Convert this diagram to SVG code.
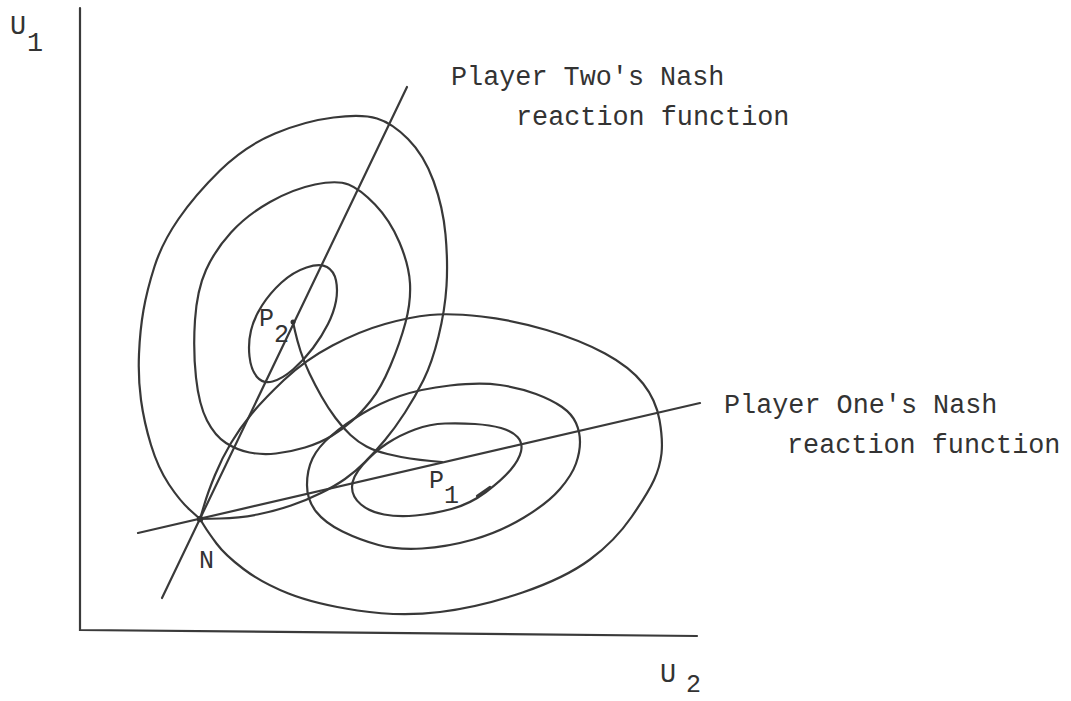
<svg xmlns="http://www.w3.org/2000/svg" width="1071" height="701" viewBox="0 0 1071 701">
<style>
.c{fill:none;stroke:#383838;stroke-width:2.2;stroke-linecap:round;stroke-linejoin:round}
.l{fill:none;stroke:#3a3a3a;stroke-width:2.2;stroke-linecap:round}
.t{font-family:"Liberation Mono","Courier New",monospace;font-size:26.8px;fill:#333}
.s{font-family:"Liberation Mono","Courier New",monospace;font-size:25px;fill:#333}
</style>
<rect width="1071" height="701" fill="#fff"/>
<g id="connectors">
<path class="l" d="M80,8 L80,630 L697,636"/>
<path class="l" d="M162,598 L407,87"/>
<path class="l" d="M138,533 L700,403"/>
</g>
<g id="p2-outer"><path class="c" d="M200,519 L190,510 Q180,501 169,484.5 Q158,468 151,445 Q144,422 141,400 Q138,378 139,354 Q140,330 143.5,310 Q147,290 154.5,266.5 Q162,243 178.5,219 Q195,195 220,170.5 Q245,146 275,133.5 Q305,121 333.5,117.5 Q362,114 377,118.5 Q392,123 408,139 Q424,155 433.5,181 Q443,207 445.5,234.5 Q448,262 446.5,286 Q445,310 438.5,336.5 Q432,363 423.5,380 Q415,397 405,412.5 Q395,428 385,440 Q375,452 365,462 Q355,472 345,479 Q335,486 321,493 Q307,500 291,505.5 Q275,511 257.5,514.5 Q240,518 220,518.5 L200,519"/></g>
<g id="p2-middle"><path class="c" d="M315,184.5 Q337,180 348.5,184.5 Q360,189 375,204.5 Q390,220 399.5,242.5 Q409,265 410,283.5 Q411,302 405.5,322.5 Q400,343 390.5,365.5 Q381,388 371,400.5 Q361,413 352,421 Q343,429 331.5,436 Q320,443 305,447.5 Q290,452 276,453.5 Q262,455 249.5,452.5 Q237,450 226,443 Q215,436 207,420.5 Q199,405 196,377.5 Q193,350 195,320 Q197,290 206,270 Q215,250 231,232.5 Q247,215 270,202 Q293,189 315,184.5 Z"/></g>
<g id="p2-inner"><path class="c" d="M306.5,267.5 Q320,263 327,267 Q334,271 336,280.5 Q338,290 336,301 Q334,312 328,324 Q322,336 313,348 Q304,360 293,369.5 Q282,379 272.5,381.5 Q263,384 257,377 Q251,370 249.5,356.5 Q248,343 251,330.5 Q254,318 262,305.5 Q270,293 281.5,282.5 Q293,272 306.5,267.5 Z"/></g>
<g id="p1-outer"><path class="c" d="M200,519 L204,505.5 Q208,492 215,475 Q222,458 231,443 Q240,428 251.5,414 Q263,400 284,380 Q305,360 332.5,345.5 Q360,331 385,324 Q410,317 430,315 Q450,313 481.5,316.5 Q513,320 546.5,330 Q580,340 605,353.5 Q630,367 643,383.5 Q656,400 659.5,420 Q663,440 661.5,453.5 Q660,467 654,480 Q648,493 631.5,517 Q615,541 590,559.5 Q565,578 522.5,592.5 Q480,607 440,612 Q400,617 357.5,610.5 Q315,604 288.5,593.5 Q262,583 243.5,569 Q225,555 216.5,543.5 Q208,532 204,525.5 L200,519"/></g>
<g id="p1-middle"><path class="c" d="M450,385.5 Q480,382 500,385 Q520,388 536,394 Q552,400 562,407 Q572,414 576,423 Q580,432 580,442 Q580,452 576,463.5 Q572,475 560,489 Q548,503 524,517.5 Q500,532 473.5,539.5 Q447,547 422,548.5 Q397,550 378.5,545 Q360,540 342.5,531.5 Q325,523 316,511.5 Q307,500 307,485 Q307,470 312.5,458.5 Q318,447 331.5,435.5 Q345,424 362.5,413.5 Q380,403 400,396 Q420,389 450,385.5 Z"/></g>
<g id="p1-inner"><path class="c" d="M445,423.5 Q460,423 475,424 Q490,425 501,428 Q512,431 517.5,437 Q523,443 521,451.5 Q519,460 510.5,470 Q502,480 486,492 Q470,504 451.5,509 Q433,514 415.5,515.5 Q398,517 384,514.5 Q370,512 361,504.5 Q352,497 352,487 Q352,477 363,464.5 Q374,452 387,443.5 Q400,435 415,429.5 Q430,424 445,423.5 Z"/>
<path class="c" stroke-width="1.4" d="M477,496 L490,487"/></g>
<g id="p2-p1-curve"><path class="c" d="M293,322 L295,331 Q297,340 300.5,351 Q304,362 309.5,373.5 Q315,385 321.5,396.5 Q328,408 335.5,418 Q343,428 350.5,435 Q358,442 366.5,446.5 Q375,451 387.5,454 Q400,457 410,458.5 Q420,460 431,461 L442,462"/></g>
<g id="point-N"><circle cx="200" cy="519" r="3.2" fill="#333"/><text class="s" x="199" y="568">N</text></g>
<g id="point-P2"><circle cx="293" cy="322" r="2.5" fill="#333"/><text class="s" x="259" y="326">P</text><text class="s" x="274" y="342">2</text></g>
<g id="point-P1"><text class="s" x="429" y="488">P</text><text class="s" x="444" y="503">1</text></g>
<g id="axis-U1"><text class="t" x="10" y="34">U</text><text class="t" x="27" y="51">1</text></g>
<g id="axis-U2"><text class="t" x="660" y="682">U</text><text class="s" x="686" y="692">2</text></g>
<g id="label-p2"><text class="t" x="451" y="85">Player Two's Nash</text><text class="t" x="516" y="125">reaction function</text></g>
<g id="label-p1"><text class="t" x="724" y="413">Player One's Nash</text><text class="t" x="787" y="453">reaction function</text></g>
</svg>
